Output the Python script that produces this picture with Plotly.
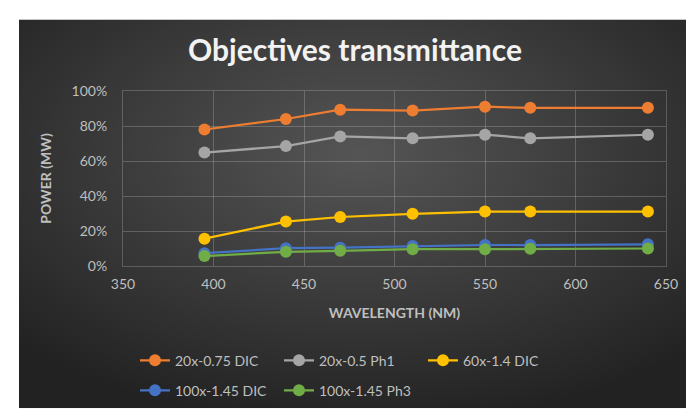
import base64
import plotly.graph_objects as go

wavelengths = [395, 440, 470, 510, 550, 575, 640]
series_names = ["20x-0.75 DIC", "20x-0.5 Ph1", "60x-1.4 DIC", "100x-1.45 DIC", "100x-1.45 Ph3"]
obj_20x_075_dic = [0.78, 0.84, 0.893, 0.888, 0.91, 0.904, 0.904]
obj_20x_05_ph1 = [0.648, 0.685, 0.74, 0.73, 0.75, 0.73, 0.75]
obj_60x_14_dic = [0.156, 0.254, 0.28, 0.298, 0.311, 0.311, 0.311]
obj_100x_145_dic = [0.073, 0.102, 0.105, 0.114, 0.12, 0.12, 0.124]
obj_100x_145_ph3 = [0.057, 0.081, 0.087, 0.096, 0.096, 0.098, 0.1]
series_values = [obj_20x_075_dic, obj_20x_05_ph1, obj_60x_14_dic, obj_100x_145_dic, obj_100x_145_ph3]
colors = ["#ED7D31", "#A5A5A5", "#FFC000", "#4472C4", "#70AD47"]
legend_ids = ["legend", "legend", "legend", "legend2", "legend2"]

FONT = "Lato"
TXT = "#BFBFBF"
GRID = "rgba(217,217,217,0.25)"

fig = go.Figure()
for name, vals, col, lg in zip(series_names, series_values, colors, legend_ids):
    fig.add_trace(go.Scatter(
        x=wavelengths, y=vals, name=name, mode="lines+markers",
        line=dict(color=col, width=2.25),
        marker=dict(color=col, size=12),
        legend=lg,
    ))

svg = ("<svg xmlns='http://www.w3.org/2000/svg' width='681' height='402' viewBox='0 0 681 402' "
       "preserveAspectRatio='none'><defs><radialGradient id='g' cx='50%' cy='35%' r='70%'>"
       "<stop offset='0' stop-color='#555555'/><stop offset='1' stop-color='#222222'/>"
       "</radialGradient></defs><rect width='681' height='402' fill='url(#g)'/></svg>")
src = "data:image/svg+xml;base64," + base64.b64encode(svg.encode()).decode()

W, H = 694, 411
L, R, T, B = 115, 36, 83, 147
pw, ph = W - L - R, H - T - B
bx0, bx1, by0, by1 = 11, 692, 9, 411

fig.add_layout_image(dict(
    source=src, xref="paper", yref="paper",
    x=(bx0 - L) / pw, y=(H - B - by0) / ph,
    sizex=(bx1 - bx0) / pw, sizey=(by1 - by0) / ph,
    xanchor="left", yanchor="top", sizing="stretch", layer="below",
))

legend_common = dict(
    orientation="h", font=dict(family=FONT, size=14, color=TXT),
    bgcolor="rgba(0,0,0,0)", xanchor="left", yanchor="middle",
    entrywidth=99, entrywidthmode="pixels", itemwidth=30,
)

fig.update_layout(
    width=W, height=H,
    margin=dict(l=L, r=R, t=T, b=B),
    paper_bgcolor="white", plot_bgcolor="rgba(0,0,0,0)",
    title=dict(text="<b>Objectives transmittance</b>", x=0.5, xanchor="center",
               y=1 - 42 / H, yanchor="middle",
               font=dict(family=FONT, size=30, color="#F2F2F2")),
    xaxis=dict(range=[350, 650], dtick=50, tick0=350, showgrid=True, gridcolor=GRID, gridwidth=1,
               zeroline=False, showline=True, linecolor=GRID, mirror=True,
               tickfont=dict(family=FONT, size=14, color=TXT), ticks="", ticklabelstandoff=5,
               title=dict(text="<b>WAVELENGTH (NM)</b>", font=dict(family=FONT, size=14, color=TXT),
                          standoff=17)),
    yaxis=dict(range=[0, 1], dtick=0.2, tickformat=".0%", showgrid=True, gridcolor=GRID, gridwidth=1,
               zeroline=False, showline=True, linecolor=GRID, mirror=True,
               tickfont=dict(family=FONT, size=14, color=TXT), ticks="", ticklabelstandoff=12,
               title=dict(text="<b>POWER (MW)</b>", font=dict(family=FONT, size=14, color=TXT),
                          standoff=16)),
    legend=dict(x=(127 - L) / pw, y=(H - B - 362) / ph, **legend_common),
    legend2=dict(x=(127 - L) / pw, y=(H - B - 393) / ph, **legend_common),
    showlegend=True,
)

fig.write_html("out.html")
